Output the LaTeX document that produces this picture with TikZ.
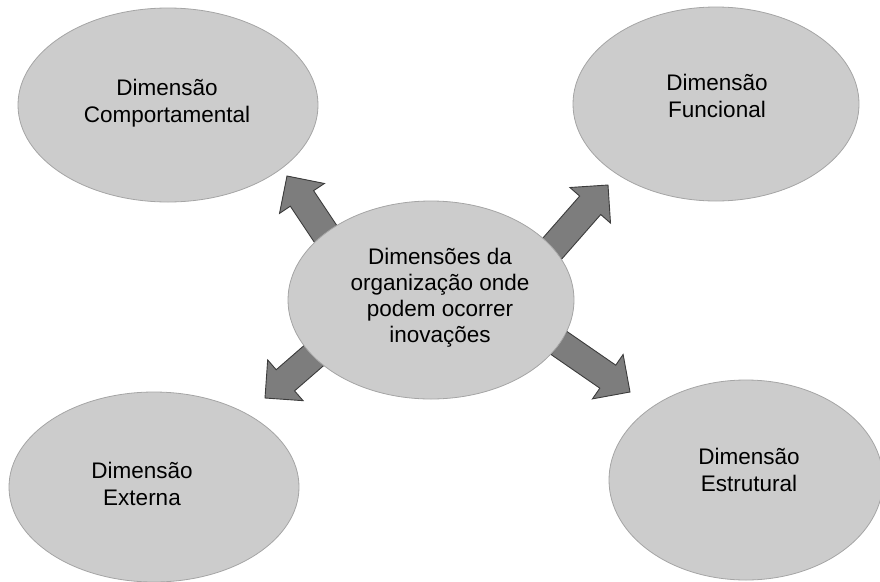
\documentclass[tikz,border=0pt]{standalone}
\usepackage{fontspec}
\setmainfont{Liberation Sans}
\usetikzlibrary{shapes.geometric,calc}
\definecolor{ellfill}{RGB}{204,204,204}
\definecolor{elldraw}{RGB}{165,165,165}
\definecolor{arrfill}{RGB}{125,125,125}
\definecolor{arrdraw}{RGB}{60,60,60}
\tikzset{
  bubble/.style={ellipse, draw=elldraw, fill=ellfill, line width=0.8pt, inner sep=0pt},
  lbl/.style={align=center, font=\fontsize{22.5}{27}\selectfont, inner sep=0pt, text=black},
  blockarrow/.style={draw=arrdraw, fill=arrfill, line width=0.9pt, line join=miter}
}
\newcommand\blockarr[2]{%
  \coordinate (hb) at ($(#2)!27pt!(#1)$);
  \draw[blockarrow] ($(#1)!14pt!90:(#2)$) -- ($(hb)!14pt!90:(#2)$) -- ($(hb)!27pt!90:(#2)$) -- (#2)
    -- ($(hb)!27pt!-90:(#2)$) -- ($(hb)!14pt!-90:(#2)$) -- ($(#1)!14pt!-90:(#2)$) -- cycle;
}
\begin{document}
\begin{tikzpicture}[x=1pt,y=-1pt]
\useasboundingbox (0,0) rectangle (880,581);
\clip (0,0) rectangle (880,581);
% outer bubbles
\node[bubble, minimum width=300pt, minimum height=194pt] (tl) at (168,105) {};
\node[bubble, minimum width=286pt, minimum height=194pt] (tr) at (716,104) {};
\node[bubble, minimum width=290pt, minimum height=190pt] (bl) at (154,487) {};
\node[bubble, minimum width=274pt, minimum height=200pt] (br) at (746,480) {};
\node[lbl] (tlt) at (167,103) {Dimensão\\Comportamental};
\node[lbl] (trt) at (717,96) {Dimensão\\Funcional};
\node[lbl] (blt) at (142,484) {Dimensão\\Externa};
\node[lbl] (brt) at (749,470) {Dimensão\\Estrutural};
% arrows
\coordinate (ulA) at (335,248); \coordinate (ulB) at (287,176);
\coordinate (urA) at (551,250); \coordinate (urB) at (608,185);
\coordinate (llA) at (326,345); \coordinate (llB) at (265,398);
\coordinate (lrA) at (559,343); \coordinate (lrB) at (630,392);
\blockarr{ulA}{ulB}
\blockarr{urA}{urB}
\blockarr{llA}{llB}
\blockarr{lrA}{lrB}
% center bubble
\node[bubble, minimum width=286pt, minimum height=198pt] (c) at (431,300) {};
\node[lbl, font=\fontsize{22.5}{26}\selectfont] (ct) at (440,298) {Dimensões da\\organização onde\\podem ocorrer\\inovações};
\end{tikzpicture}
\end{document}
